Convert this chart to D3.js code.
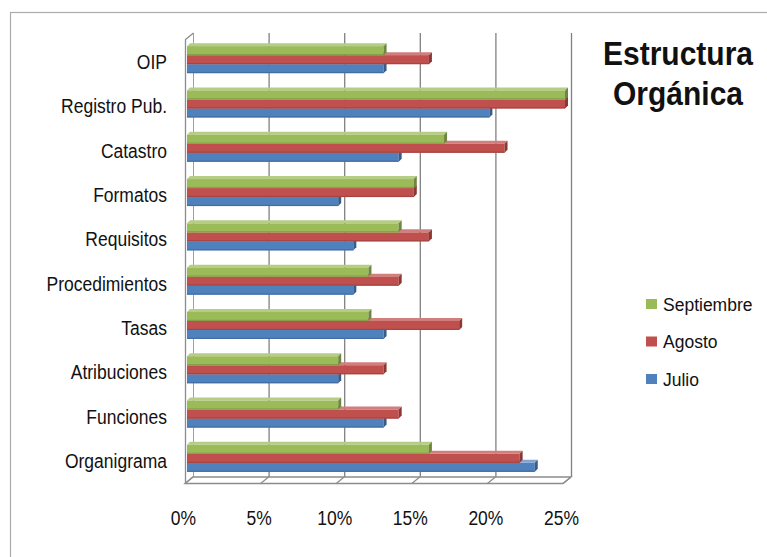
<!DOCTYPE html>
<html>
<head>
<meta charset="utf-8">
<script src="https://cdn.jsdelivr.net/npm/d3@7"></script>
<style>
  html, body { margin: 0; padding: 0; background: #fff; }
  svg { display: block; }
  text { font-family: "Liberation Sans", Arial, sans-serif; fill: #111; }
</style>
</head>
<body>
<script>
// ---- data ----
const categories = ["OIP", "Registro Pub.", "Catastro", "Formatos", "Requisitos",
  "Procedimientos", "Tasas", "Atribuciones", "Funciones", "Organigrama"];
const septiembre = [13, 25, 17, 15, 14, 12, 12, 10, 10, 16];
const agosto     = [16, 25, 21, 15, 16, 14, 18, 13, 14, 22];
const julio      = [13, 20, 14, 10, 11, 11, 13, 10, 13, 23];
const seriesNames = ["Septiembre", "Agosto", "Julio"];
const tickValues = [0, 5, 10, 15, 20, 25];
const titleLines = ["Estructura", "Orgánica"];

const seriesValues = [septiembre, agosto, julio];
const seriesColors = [
  { face: "#9BBB59", top: "#B5CD85", end: "#6E8740", light: "#A6C36A", dark: "#84A04A" },
  { face: "#C0504D", top: "#D07F7D", end: "#8A3835", light: "#C95F5C", dark: "#A54441" },
  { face: "#4F81BD", top: "#84A5D2", end: "#375C89", light: "#5E8DC6", dark: "#436EA3" }
];

const W = 767, H = 557;
const svg = d3.select("body").append("svg").attr("width", W).attr("height", H);
svg.append("rect").attr("width", W).attr("height", H).attr("fill", "#fff");

// outer chart border (extends past right/bottom)
svg.append("rect").attr("x", 10.5).attr("y", 12.5).attr("width", 800).attr("height", 600)
  .attr("fill", "none").attr("stroke", "#ababab").attr("stroke-width", 1.2);

// ---- scales ----
const DX = -8, DY = 6.5;               // depth vector back -> front
const xBack = d3.scaleLinear().domain([0, 25]).range([193, 571]);
const xFront = d3.scaleLinear().domain([0, 25]).range([193 + DX, 571 + DX]);
const yFront = d3.scaleBand().domain(categories).range([40, 483]).paddingInner(0).paddingOuter(0);
const backTop = 33, backBottom = 477;

const grid = svg.append("g");
// back wall gridlines
grid.selectAll("line.g").data(tickValues.slice(1)).join("line")
  .attr("x1", d => xBack(d) + 0.5).attr("x2", d => xBack(d) + 0.5)
  .attr("y1", backTop).attr("y2", backBottom)
  .attr("stroke", "#808080").attr("stroke-width", 1.3);
// left wall
grid.append("line").attr("x1", xBack(0) + 0.5).attr("x2", xBack(0) + 0.5)
  .attr("y1", backTop).attr("y2", backBottom).attr("stroke", "#a0a0a0");
grid.append("path")
  .attr("d", `M${xFront(0) + 0.5},${backBottom + DY} L${xFront(0) + 0.5},${backTop + DY} L${xBack(0) + 0.5},${backTop}`)
  .attr("fill", "none").attr("stroke", "#8c8c8c").attr("stroke-width", 1.3);
// floor
grid.append("path")
  .attr("d", `M${xBack(0)},${backBottom} L${xBack(25)},${backBottom} L${xFront(25)},${backBottom + DY} L${xFront(0)},${backBottom + DY} Z`)
  .attr("fill", "none").attr("stroke", "#8c8c8c").attr("stroke-width", 1.3);
grid.selectAll("line.f").data(tickValues).join("line")
  .attr("x1", d => xBack(d)).attr("y1", backBottom)
  .attr("x2", d => xFront(d)).attr("y2", backBottom + DY)
  .attr("stroke", "#8c8c8c").attr("stroke-width", 1.2);

// ---- bars ----
const BAR_DX = -6;              // bar front face offset from back plane
const CAP = 3;                  // bar depth
const barH = 9;
const xBar = v => xBack(v) + BAR_DX;

const bars = svg.append("g");
// draw blue (index 2) first, then red, then green so top faces are occluded
[2, 1, 0].forEach(si => {
  const col = seriesColors[si];
  const g = bars.append("g");
  categories.forEach((cat, ci) => {
    const v = seriesValues[si][ci];
    const c = yFront(cat) + yFront.bandwidth() / 2;
    const y0 = c - 16 + barH * si;
    const x0 = xBar(0), x1 = xBar(v);
    // top face
    g.append("path")
      .attr("d", `M${x0},${y0} L${x0 + CAP},${y0 - CAP} L${x1 + CAP},${y0 - CAP} L${x1},${y0} Z`)
      .attr("fill", col.top);
    // front face
    g.append("rect").attr("x", x0).attr("y", y0).attr("width", x1 - x0).attr("height", barH)
      .attr("fill", col.face);
    g.append("rect").attr("x", x0).attr("y", y0 + barH - 1.2).attr("width", x1 - x0).attr("height", 1.2)
      .attr("fill", col.dark);
    // end cap
    g.append("path")
      .attr("d", `M${x1},${y0} L${x1 + CAP},${y0 - CAP} L${x1 + CAP},${y0 + barH - CAP} L${x1},${y0 + barH} Z`)
      .attr("fill", col.end);
  });
});

// ---- category labels ----
const catG = svg.append("g");
categories.forEach(cat => {
  const c = yFront(cat) + yFront.bandwidth() / 2;
  catG.append("g").attr("transform", `translate(167,${c + 7}) scale(1,1.15)`)
    .append("text").attr("text-anchor", "end").attr("font-size", 17.5).attr("fill", "#1a1a1a").text(cat);
});

// ---- x axis tick labels ----
const axisScale = d3.scaleLinear().domain([0, 25]).range([193 - 10, 571 - 10]);
const axis = d3.axisBottom(axisScale).tickValues(tickValues).tickSize(0).tickPadding(0)
  .tickFormat(d => d + "%");
const axG = svg.append("g").attr("transform", "translate(0,525)").call(axis);
axG.select(".domain").remove();
axG.selectAll(".tick text")
  .attr("dy", 0).attr("y", 0)
  .attr("font-size", 17.5)
  .attr("font-family", "Liberation Sans, Arial, sans-serif")
  .attr("fill", "#222")
  .attr("transform", "scale(1,1.18)");

// ---- title ----
const tG = svg.append("g");
titleLines.forEach((t, i) => {
  tG.append("g").attr("transform", `translate(678,${65 + i * 40}) scale(1,1.12)`)
    .append("text").attr("text-anchor", "middle").attr("font-size", 30)
    .attr("font-weight", "bold").attr("fill", "#000").text(t);
});

// ---- legend ----
const legG = svg.append("g");
seriesNames.forEach((n, i) => {
  const cy = 304 + i * 37.5;
  legG.append("rect").attr("x", 646).attr("y", cy - 5).attr("width", 11).attr("height", 10)
    .attr("fill", seriesColors[i].face);
  legG.append("text").attr("x", 663).attr("y", cy + 6.5).attr("font-size", 17.5).text(n);
});
</script>
</body>
</html>
